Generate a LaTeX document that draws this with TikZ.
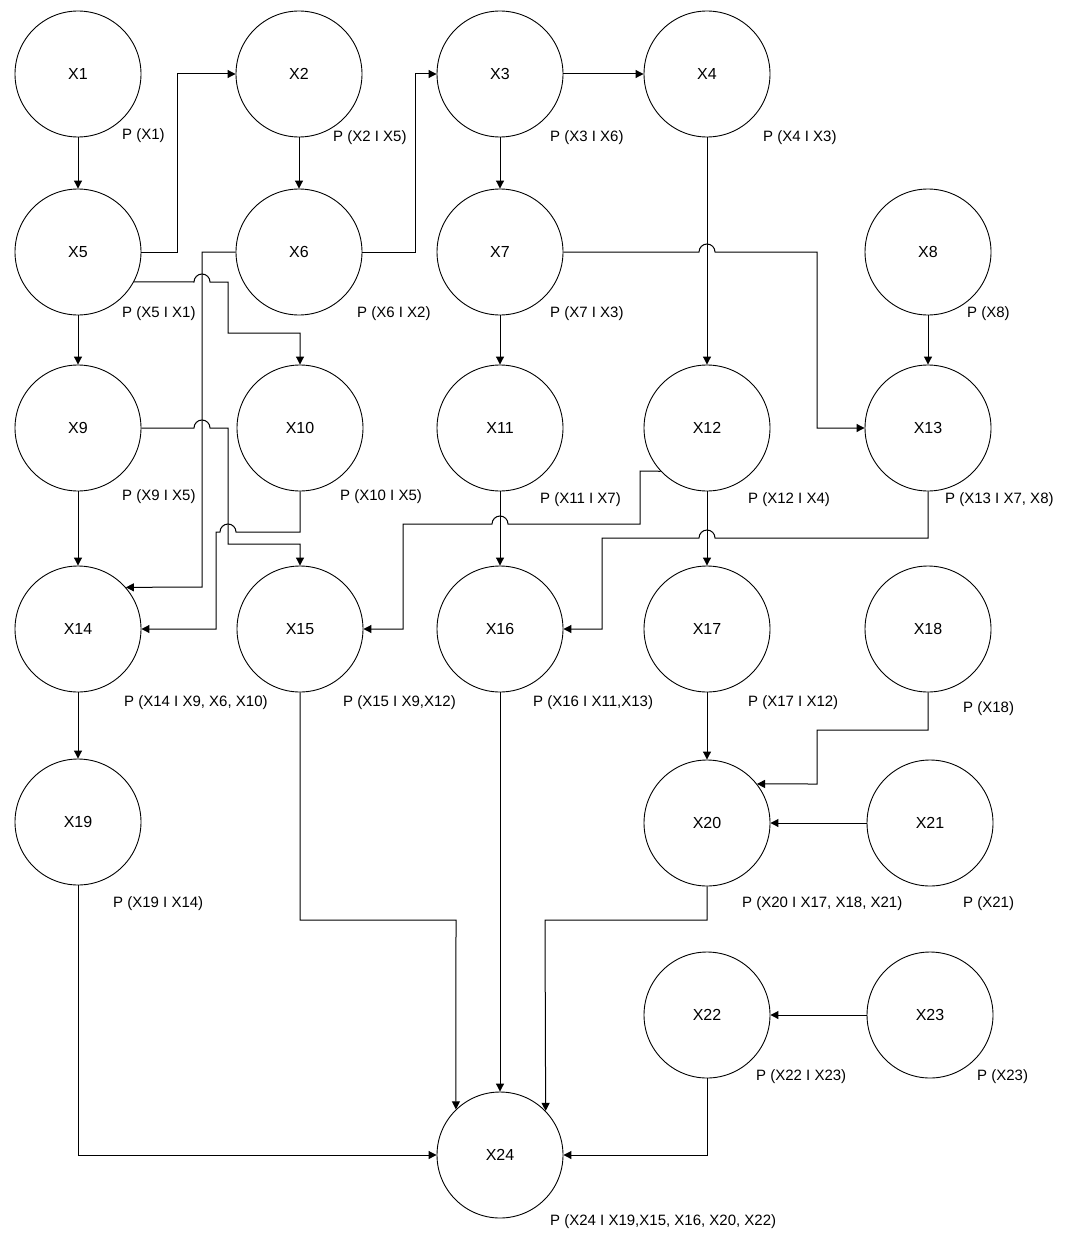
\documentclass[tikz,border=0pt]{standalone}
\usepackage{fontspec}
\setmainfont{Liberation Sans}
\usetikzlibrary{arrows.meta}
\begin{document}
\begin{tikzpicture}[x=1pt,y=-1pt]
        \tikzset{
            varnode/.style={circle,draw=black,line width=0.9pt,minimum size=126pt,inner sep=0pt,font=\fontsize{16}{19}\selectfont},
            prob/.style={anchor=west,inner sep=0pt,font=\fontsize{15}{18}\selectfont},
            edge/.style={-{Triangle[length=8pt,width=8pt]},line width=1pt}
        }
        \useasboundingbox (0,0) rectangle (1070,1244);

        \node[varnode] (X1) at (78,74) {X1};
        \node[varnode] (X2) at (299,74) {X2};
        \node[varnode] (X3) at (500,74) {X3};
        \node[varnode] (X4) at (707,74) {X4};

        \node[varnode] (X5) at (78,252) {X5};
        \node[varnode] (X6) at (299,252) {X6};
        \node[varnode] (X7) at (500,252) {X7};
        \node[varnode] (X8) at (928,252) {X8};

        \node[varnode] (X9) at (78,428) {X9};
        \node[varnode] (X10) at (300,428) {X10};
        \node[varnode] (X11) at (500,428) {X11};
        \node[varnode] (X12) at (707,428) {X12};
        \node[varnode] (X13) at (928,428) {X13};

        \node[varnode] (X14) at (78,629) {X14};
        \node[varnode] (X15) at (300,629) {X15};
        \node[varnode] (X16) at (500,629) {X16};
        \node[varnode] (X17) at (707,629) {X17};
        \node[varnode] (X18) at (928,629) {X18};

        \node[varnode] (X19) at (78,822) {X19};
        \node[varnode] (X20) at (707,823) {X20};
        \node[varnode] (X21) at (930,823) {X21};

        \node[varnode] (X22) at (707,1015) {X22};
        \node[varnode] (X23) at (930,1015) {X23};

        \node[varnode] (X24) at (500,1155) {X24};

        % probabilities
        \node[prob] (p1) at (122,136) {P (X1)};
        \node[prob] (p2) at (333,138) {P (X2 I X5)};
        \node[prob] (p3) at (550,138) {P (X3 I X6)};
        \node[prob] (p4) at (763,138) {P (X4 I X3)};
        \node[prob] (p5) at (122,314) {P (X5 I X1)};
        \node[prob] (p6) at (357,314) {P (X6 I X2)};
        \node[prob] (p7) at (550,314) {P (X7 I X3)};
        \node[prob] (p8) at (967,314) {P (X8)};
        \node[prob] (p9) at (122,497) {P (X9 I X5)};
        \node[prob] (p10) at (340,497) {P (X10 I X5)};
        \node[prob] (p11) at (540,500) {P (X11 I X7)};
        \node[prob] (p12) at (748,500) {P (X12 I X4)};
        \node[prob] (p13) at (945,500) {P (X13 I X7, X8)};
        \node[prob] (p14) at (124,703) {P (X14 I X9, X6, X10)};
        \node[prob] (p15) at (343,703) {P (X15 I X9,X12)};
        \node[prob] (p16) at (533,703) {P (X16 I X11,X13)};
        \node[prob] (p17) at (748,703) {P (X17 I X12)};
        \node[prob] (p18) at (963,709) {P (X18)};
        \node[prob] (p19) at (113,904) {P (X19 I X14)};
        \node[prob] (p20) at (742,904) {P (X20 I X17, X18, X21)};
        \node[prob] (p21) at (963,904) {P (X21)};
        \node[prob] (p22) at (756,1077) {P (X22 I X23)};
        \node[prob] (p23) at (977,1077) {P (X23)};
        \node[prob] (p24) at (550,1222) {P (X24 I X19,X15, X16, X20, X22)};

        % straight edges
        \draw[edge] (X1) -- (X5);
        \draw[edge] (X2) -- (X6);
        \draw[edge] (X3) -- (X4);
        \draw[edge] (X3) -- (X7);
        \draw[edge] (X4) -- (X12);
        \draw[edge] (X8) -- (X13);
        \draw[edge] (X5) -- (X9);
        \draw[edge] (X9) -- (X14);
        \draw[edge] (X14) -- (X19);
        \draw[edge] (X7) -- (X11);
        \draw[edge] (X11) -- (X16);
        \draw[edge] (X12) -- (X17);
        \draw[edge] (X17) -- (X20);
        \draw[edge] (X21) -- (X20);
        \draw[edge] (X23) -- (X22);
        \draw[edge] (X16) -- (X24);

        % elbow edges
        \draw[edge] (X5.east) -- (177,252) |- (X2.west);
        \draw[edge] (X6.east) -- (415,252) |- (X3.west);
        \draw[edge] (X7.east) -- (699,252) arc[start angle=180,end angle=360,radius=8] -| (817,428) -- (X13.west);
        \draw[edge] (X5.-28.4) -- (194,282) arc[start angle=180,end angle=360,radius=8] -- (228,282) |- (300,333) -- (X10);
        \draw[edge] (X6.west) -- (202,252) -- (202,587) -- (X14.41.8);
        \draw[edge] (X9.east) -- (194,428) arc[start angle=180,end angle=360,radius=8] -- (228,428) |- (300,544) -- (X15);
        \draw[edge] (X10.south) |- (236,532) arc[start angle=0,end angle=-180,radius=8] -- (216,532) |- (X14.east);
        \draw[edge] (X12.223) -- (640,471) |- (508,524) arc[start angle=0,end angle=-180,radius=8] -- (403,524) |- (X15.east);
        \draw[edge] (X13.south) |- (715,538) arc[start angle=0,end angle=-180,radius=8] -- (602,538) |- (X16.east);
        \draw[edge] (X18.south) -- (928,730) -| (817,784) -- (X20.38.2);
        \draw[edge] (X15.south) |- (456,920) -- (X24.134.4);
        \draw[edge] (X20.south) |- (545,920) -- (X24.44.4);
        \draw[edge] (X22.south) |- (X24.east);
        \draw[edge] (X19.south) |- (X24.west);

    \end{tikzpicture}
\end{document}
